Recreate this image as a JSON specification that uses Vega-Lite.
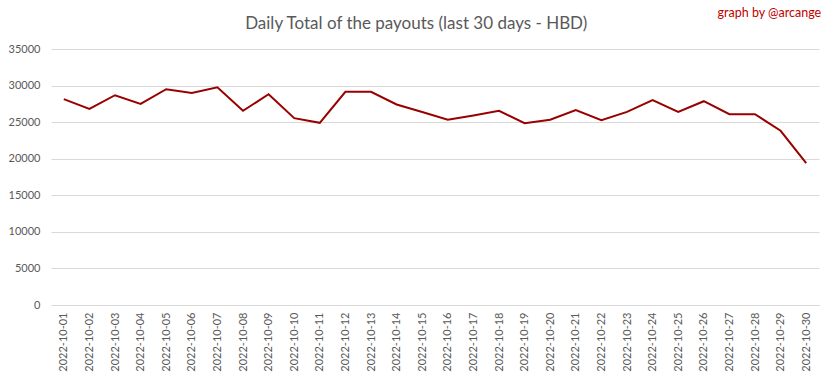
{
  "$schema": "https://vega.github.io/schema/vega-lite/v6.json",
  "autosize": "none",
  "width": 768,
  "height": 256,
  "padding": {"left": 51, "top": 49, "right": 14, "bottom": 74},
  "background": "white",
  "config": {"view": {"stroke": null}, "font": "Lato"},
  "encoding": {
    "x": {
      "field": "date",
      "type": "ordinal",
      "scale": {"type": "point", "padding": 0.5},
      "axis": {
        "title": null,
        "labelAngle": -90,
        "labelFontSize": 11,
        "labelColor": "#595959",
        "labelPadding": 7,
        "ticks": false,
        "domainColor": "#d9d9d9",
        "domainWidth": 1,
        "grid": false
      }
    },
    "y": {
      "field": "hbd",
      "type": "quantitative",
      "scale": {"domain": [0, 35000], "nice": false},
      "axis": {
        "title": null,
        "values": [0, 5000, 10000, 15000, 20000, 25000, 30000, 35000],
        "format": "d",
        "labelFontSize": 11,
        "labelColor": "#595959",
        "labelPadding": 11,
        "ticks": false,
        "domain": false,
        "gridColor": "#d9d9d9",
        "gridWidth": 1
      }
    }
  },
  "layer": [
    {
      "data": {
        "values": [
          {"date": "2022-10-01", "hbd": 28140},
          {"date": "2022-10-02", "hbd": 26820},
          {"date": "2022-10-03", "hbd": 28680},
          {"date": "2022-10-04", "hbd": 27500},
          {"date": "2022-10-05", "hbd": 29500},
          {"date": "2022-10-06", "hbd": 29000},
          {"date": "2022-10-07", "hbd": 29770},
          {"date": "2022-10-08", "hbd": 26545},
          {"date": "2022-10-09", "hbd": 28820},
          {"date": "2022-10-10", "hbd": 25545},
          {"date": "2022-10-11", "hbd": 24910},
          {"date": "2022-10-12", "hbd": 29140},
          {"date": "2022-10-13", "hbd": 29140},
          {"date": "2022-10-14", "hbd": 27410},
          {"date": "2022-10-15", "hbd": 26390},
          {"date": "2022-10-16", "hbd": 25320},
          {"date": "2022-10-17", "hbd": 25910},
          {"date": "2022-10-18", "hbd": 26545},
          {"date": "2022-10-19", "hbd": 24860},
          {"date": "2022-10-20", "hbd": 25320},
          {"date": "2022-10-21", "hbd": 26640},
          {"date": "2022-10-22", "hbd": 25270},
          {"date": "2022-10-23", "hbd": 26410},
          {"date": "2022-10-24", "hbd": 28000},
          {"date": "2022-10-25", "hbd": 26410},
          {"date": "2022-10-26", "hbd": 27860},
          {"date": "2022-10-27", "hbd": 26090},
          {"date": "2022-10-28", "hbd": 26090},
          {"date": "2022-10-29", "hbd": 23820},
          {"date": "2022-10-30", "hbd": 19410}
        ]
      },
      "mark": {"type": "line", "color": "#990000", "strokeWidth": 2}
    },
    {
      "data": {"values": [{"label": "Daily Total of the payouts (last 30 days - HBD)", "date": "2022-10-15", "hbd": 37775}]},
      "mark": {"type": "text", "align": "center", "baseline": "alphabetic", "color": "#595959", "fontSize": 17, "font": "Lato", "dx": -6, "clip": false},
      "encoding": {"text": {"field": "label"}}
    },
    {
      "data": {"values": [{"label": "graph by @arcange", "date": "2022-10-30", "hbd": 39334}]},
      "mark": {"type": "text", "align": "right", "baseline": "alphabetic", "color": "#c00000", "fontSize": 12.5, "font": "Lato", "dx": 15, "clip": false},
      "encoding": {"text": {"field": "label"}}
    }
  ]
}
